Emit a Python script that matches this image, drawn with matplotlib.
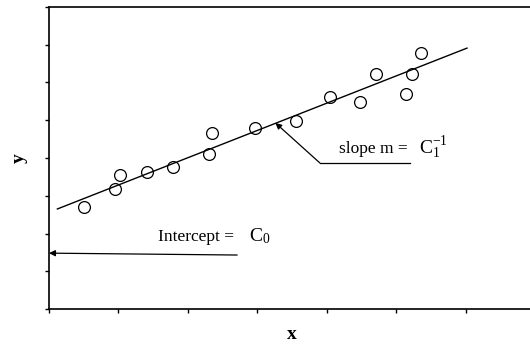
import matplotlib
matplotlib.use("Agg")
import matplotlib.pyplot as plt

plt.rcParams['font.family'] = ['Liberation Serif', 'DejaVu Serif']
plt.rcParams['mathtext.fontset'] = 'custom'
plt.rcParams['mathtext.rm'] = 'Liberation Serif'
plt.rcParams['mathtext.it'] = 'Liberation Serif:italic'

# measured points
x_pts = [0.51, 0.95, 1.02, 1.41, 1.79, 2.30, 2.35, 2.96, 3.56, 4.04, 4.48, 4.71, 5.14, 5.23, 5.36]
y_pts = [2.69, 3.19, 3.55, 3.63, 3.77, 4.10, 4.65, 4.79, 4.99, 5.61, 5.47, 6.22, 5.70, 6.23, 6.77]

# fitted line ends
fit_x = [0.12, 6.02]
fit_y = [2.65, 6.91]

# annotation anchors
intercept_tip = (0.0, 1.48)
intercept_tail = (2.71, 1.43)
slope_tip = (3.26, 4.93)
slope_knee = (3.90, 3.87)
slope_end = (5.20, 3.87)

fig = plt.figure(figsize=(5.3, 3.48), dpi=100)
ax = fig.add_axes([0.0925, 0.112, 0.917, 0.868])

ax.plot(x_pts, y_pts, 'o', ms=8.5, mfc='none', mec='black', mew=0.9)
ax.plot(fit_x, fit_y, '-', color='black', lw=1.0)

# intercept arrow
ax.annotate('', xy=intercept_tip, xytext=intercept_tail,
            arrowprops=dict(arrowstyle='-|>', color='black', lw=0.9,
                            mutation_scale=9, shrinkA=0, shrinkB=0))
ax.text(2.67, 1.80, 'Intercept =', ha='right', va='baseline', fontsize=12.5)
ax.text(2.88, 1.80, r'$\mathrm{C}_0$', ha='left', va='baseline', fontsize=14)

# slope arrow
ax.plot([slope_knee[0], slope_end[0]], [slope_knee[1], slope_end[1]], color='black', lw=0.9)
ax.annotate('', xy=slope_tip, xytext=slope_knee,
            arrowprops=dict(arrowstyle='-|>', color='black', lw=0.9,
                            mutation_scale=9, shrinkA=0, shrinkB=0))
ax.text(5.16, 4.12, 'slope m =', ha='right', va='baseline', fontsize=12.5)
ax.text(5.33, 4.12, r'$\mathrm{C}_1^{-1}$', ha='left', va='baseline', fontsize=14)

ax.set_xlim(0, 7)
ax.set_ylim(0, 8)
ax.set_xticks(range(0, 7))
ax.set_yticks(range(0, 9))
ax.set_xticklabels([])
ax.set_yticklabels([])
ax.tick_params(direction='out', length=3, width=1.0)
ax.spines['right'].set_visible(False)
for s in ['left', 'top', 'bottom']:
    ax.spines[s].set_linewidth(1.2)

ax.set_xlabel('x', fontsize=14, fontweight='bold', labelpad=6)
ax.set_ylabel('y', fontsize=14, fontweight='bold', labelpad=9)

fig.savefig('out.png', dpi=100)
